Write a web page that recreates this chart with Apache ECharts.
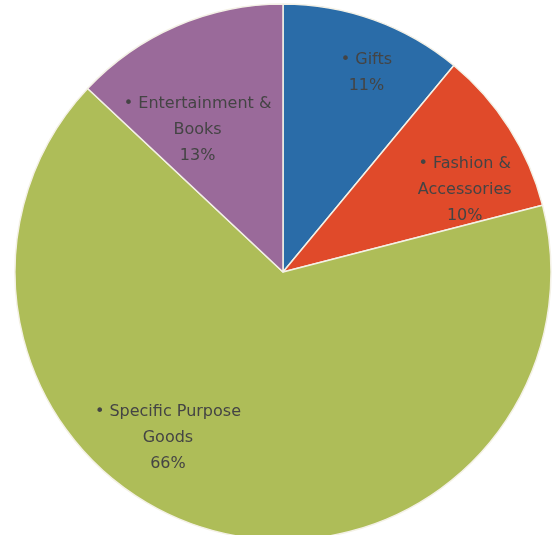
<!DOCTYPE html>
<html>
<head>
<meta charset="utf-8">
<script src="https://cdn.jsdelivr.net/npm/echarts@6/dist/echarts.min.js"></script>
<style>
  html, body { margin: 0; padding: 0; background: #ffffff; }
  #chart { width: 554px; height: 535px; }
</style>
</head>
<body>
<div id="chart"></div>
<script>
// categories and shares (percent), clockwise from 12 o'clock
const categories = ["Gifts", "Fashion &\nAccessories", "Specific Purpose\nGoods", "Entertainment &\nBooks"];
const shares = [11, 10, 66, 13];
const colors = ["#2a6ca8", "#e04a2a", "#aebd58", "#9a6a9a"];

// nudges for the inside labels, so they sit where the original put them
const labelNudge = [
  [37, -70],
  [66, -9],
  [-81, 33],
  [-31, -16],
];

const chart = echarts.init(document.getElementById("chart"), null, { renderer: "canvas" });

chart.setOption({
  backgroundColor: "#ffffff",
  animation: false,
  series: [
    {
      type: "pie",
      center: [283, 272],
      radius: 268,
      startAngle: 90,
      clockwise: true,
      avoidLabelOverlap: false,
      itemStyle: {
        borderColor: "#f4f1e6",
        borderWidth: 1.5,
      },
      label: {
        show: true,
        position: "inside",
        color: "#444444",
        fontFamily: "DejaVu Sans",
        fontSize: 16,
        lineHeight: 26,
        align: "center",
        formatter: (p) => "• " + p.name + "\n" + Math.round(p.percent) + "%",
      },
      labelLine: { show: false },
      labelLayout: (params) => {
        const n = labelNudge[params.dataIndex];
        return { dx: n[0], dy: n[1] };
      },
      emphasis: { disabled: true },
      data: categories.map((name, i) => ({
        name: name,
        value: shares[i],
        itemStyle: { color: colors[i] },
      })),
    },
  ],
});
</script>
</body>
</html>
